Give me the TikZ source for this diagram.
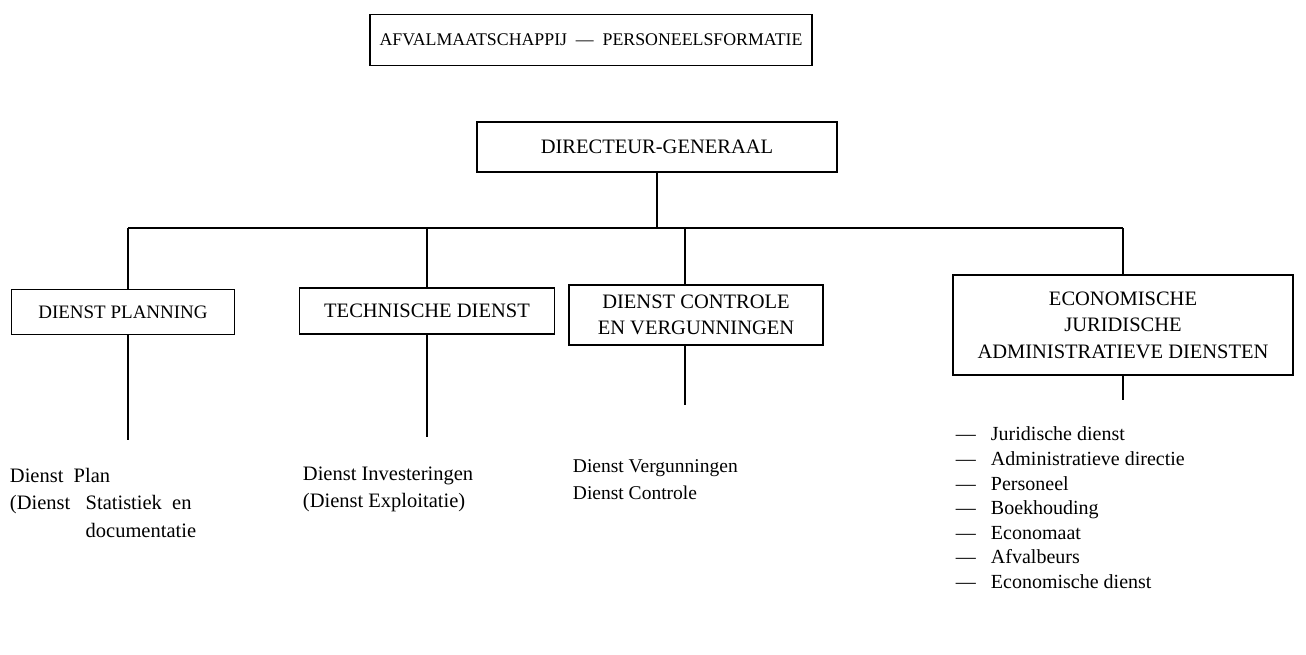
\documentclass[tikz,border=0pt]{standalone}
\usepackage{fontspec}
\setmainfont{Liberation Serif}
\begin{document}
\begin{tikzpicture}[x=1pt,y=-1pt,line width=1.9pt,
	box/.style={draw=black,line width=1.9pt,inner sep=0pt,align=center,font=\fontsize{20.5}{26.5}\selectfont},
	sub/.style={anchor=north west,inner sep=0pt,align=left,font=\fontsize{19.5}{27}\selectfont}]
			\useasboundingbox (0,0) rectangle (1306,655);
			%top nodes
			\node [box,minimum width=442,minimum height=51,font=\fontsize{17.8}{20}\selectfont] (title) at (591,40) {AFVALMAATSCHAPPIJ\ \ ---\ \ PERSONEELSFORMATIE};
			\node [box,minimum width=360,minimum height=50] (dg) at (657,147) {DIRECTEUR-GENERAAL};

			%department nodes
			\node [box,minimum width=223,minimum height=45,font=\fontsize{19}{24}\selectfont] (plan) at (123,312) {DIENST PLANNING};
			\node [box,minimum width=255,minimum height=46] (tech) at (427,311) {TECHNISCHE DIENST};
			\node [box,minimum width=254,minimum height=60] (ctrl) at (696,315) {DIENST CONTROLE\\EN VERGUNNINGEN};
			\node [box,minimum width=340,minimum height=100] (eco) at (1123,325) {ECONOMISCHE\\JURIDISCHE\\ADMINISTRATIEVE DIENSTEN};

			%sub texts
			\node [sub,font=\fontsize{20.5}{27.5}\selectfont] (planlist) at (9,467) {Dienst\ \ Plan\\(Dienst\ \ \ Statistiek\ \ en\\\phantom{(Dienst\ \ \ }documentatie};
			\node [sub,font=\fontsize{20.5}{27}\selectfont] (techlist) at (302,466) {Dienst Investeringen\\(Dienst Exploitatie)};
			\node [sub] (ctrllist) at (572,459) {Dienst Vergunningen\\Dienst Controle};
			\node [sub,font=\fontsize{20}{24.6}\selectfont] (ecolist) at (955,426) {---\ \ \ Juridische dienst\\---\ \ \ Administratieve directie\\---\ \ \ Personeel\\---\ \ \ Boekhouding\\---\ \ \ Economaat\\---\ \ \ Afvalbeurs\\---\ \ \ Economische dienst};

			%line ends
			\coordinate (bus) at (655,228);
			\coordinate (planend) at (128,440);
			\coordinate (techend) at (427,437);
			\coordinate (ctrlend) at (685,405);
			\coordinate (ecoend) at (1123,400);

			%edges
			\draw (dg.south) -- (dg.south |- bus);
			\draw ([xshift=5pt]plan.north |- bus) -- (eco.north |- bus);
			\draw ([xshift=5pt]plan.north) -- ([xshift=5pt]plan.north |- bus);
			\draw (tech.north) -- (tech.north |- bus);
			\draw ([xshift=-11pt]ctrl.north) -- ([xshift=-11pt]ctrl.north |- bus);
			\draw (eco.north) -- (eco.north |- bus);
			\draw ([xshift=5pt]plan.south) -- ([xshift=5pt]plan.south |- planend);
			\draw (tech.south) -- (tech.south |- techend);
			\draw ([xshift=-11pt]ctrl.south) -- ([xshift=-11pt]ctrl.south |- ctrlend);
			\draw (eco.south) -- (eco.south |- ecoend);
		\end{tikzpicture}
\end{document}
